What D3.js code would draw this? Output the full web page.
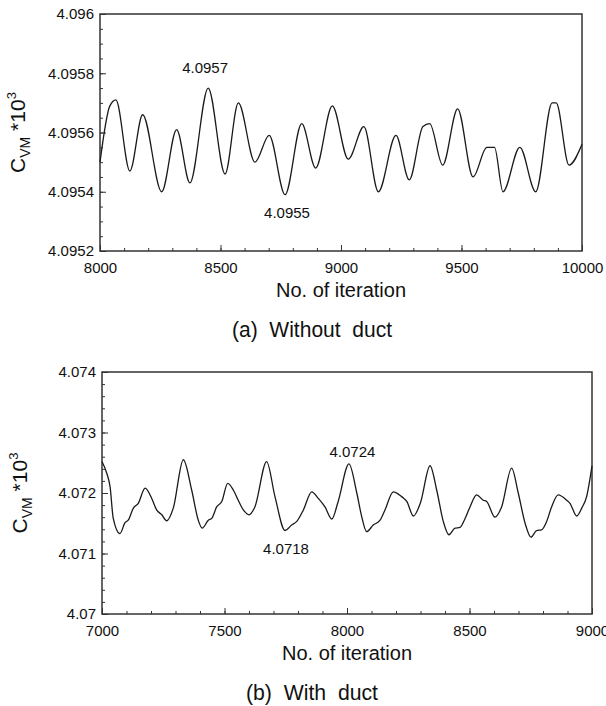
<!DOCTYPE html>
<html>
<head>
<meta charset="utf-8">
<script src="https://cdn.jsdelivr.net/npm/d3@7"></script>
<style>
  body { margin: 0; background: #fff; }
  text { font-family: "Liberation Sans", Arial, sans-serif; fill: #111; }
</style>
</head>
<body>
<script>
// (a) Without duct
const iterA = [8000, 8041, 8066, 8124, 8177, 8256, 8318, 8373, 8449, 8519, 8574, 8643, 8702, 8768,
  8837, 8895, 8964, 9030, 9095, 9155, 9228, 9283, 9340, 9368, 9422, 9484, 9548, 9605, 9637, 9672,
  9742, 9808, 9876, 9893, 9946, 10000];
const cvmA = [4.09550, 4.09569, 4.09571, 4.09547, 4.09566, 4.09540, 4.09561, 4.09543, 4.09575, 4.09546,
  4.09570, 4.09550, 4.09559, 4.09539, 4.09563, 4.09548, 4.09569, 4.09551, 4.09562, 4.09540, 4.09559,
  4.09544, 4.09562, 4.09563, 4.09549, 4.09568, 4.09545, 4.09555, 4.09555, 4.09540, 4.09555, 4.09540,
  4.09570, 4.09570, 4.09549, 4.09556];
const xTicksA = [8000, 8500, 9000, 9500, 10000];
const yTicksA = [4.0952, 4.0954, 4.0956, 4.0958, 4.096];
const yLabelsA = ["4.0952", "4.0954", "4.0956", "4.0958", "4.096"];
const noteTextA = ["4.0957", "4.0955"];
const noteIterA = [8436, 8776];
const noteCvmA = [4.0958, 4.09531];

// (b) With duct
const iterB = [7000, 7019, 7033, 7046, 7073, 7094, 7107, 7128, 7148, 7176, 7203, 7223, 7244, 7264,
  7291, 7332, 7366, 7393, 7409, 7434, 7448, 7468, 7489, 7513, 7536, 7556, 7577, 7600, 7624, 7672,
  7706, 7747, 7774, 7795, 7822, 7856, 7883, 7910, 7938, 7964, 8008, 8040, 8060, 8080, 8107, 8135,
  8155, 8189, 8223, 8244, 8271, 8300, 8339, 8366, 8393, 8416, 8441, 8461, 8482, 8502, 8529, 8556,
  8570, 8604, 8631, 8672, 8699, 8727, 8751, 8774, 8794, 8815, 8835, 8862, 8897, 8910, 8938, 8958,
  8978, 9000];
const cvmB = [4.07252, 4.07233, 4.07210, 4.07158, 4.07133, 4.07151, 4.07155, 4.07175, 4.07183, 4.07208,
  4.07191, 4.07172, 4.07164, 4.07154, 4.07175, 4.07255, 4.07205, 4.07155, 4.07142, 4.07155, 4.07158,
  4.07177, 4.07186, 4.07216, 4.07205, 4.07188, 4.07172, 4.07164, 4.07177, 4.07252, 4.07194, 4.07138,
  4.07147, 4.07153, 4.07172, 4.07202, 4.07191, 4.07177, 4.07157, 4.07186, 4.07248, 4.07200, 4.07161,
  4.07136, 4.07147, 4.07155, 4.07172, 4.07202, 4.07194, 4.07186, 4.07162, 4.07184, 4.07245, 4.07205,
  4.07153, 4.07131, 4.07142, 4.07143, 4.07158, 4.07177, 4.07197, 4.07188, 4.07186, 4.07160, 4.07177,
  4.07241, 4.07200, 4.07150, 4.07127, 4.07138, 4.07139, 4.07153, 4.07177, 4.07197, 4.07188, 4.07183,
  4.07162, 4.07175, 4.07194, 4.07245];
const xTicksB = [7000, 7500, 8000, 8500, 9000];
const yTicksB = [4.07, 4.071, 4.072, 4.073, 4.074];
const yLabelsB = ["4.07", "4.071", "4.072", "4.073", "4.074"];
const noteTextB = ["4.0724", "4.0718"];
const noteIterB = [8022, 7751];
const noteCvmB = [4.0726, 4.07099];

const width = 606;
const height = 706;

const svg = d3.select("body")
  .append("svg")
  .attr("width", width)
  .attr("height", height);

const styleAxis = (g) => {
  g.select(".domain").remove();
  g.selectAll(".tick line").attr("stroke", "#333").attr("stroke-width", 1);
  g.selectAll(".tick text")
    .attr("fill", "#111")
    .style("font-size", "15px")
    .style("font-family", '"Liberation Sans", Arial, sans-serif');
};

const drawPanel = (p) => {
  const x = d3.scaleLinear().domain(d3.extent(p.xTicks)).range([p.left, p.right]);
  const y = d3.scaleLinear().domain(d3.extent(p.yTicks)).range([p.bottom, p.top]);
  const g = svg.append("g");

  // minor ticks (inside)
  g.append("g")
    .attr("transform", `translate(0,${p.bottom})`)
    .call(d3.axisBottom(x).tickValues(d3.range(x.domain()[0], x.domain()[1], 100)).tickSize(-3).tickFormat(""))
    .call(styleAxis);
  g.append("g")
    .attr("transform", `translate(${p.left},0)`)
    .call(d3.axisLeft(y).tickValues(d3.range(0, p.yMinorCount + 1).map(i => y.domain()[0] + i * p.yMinorStep)).tickSize(-3).tickFormat(""))
    .call(styleAxis);

  // major ticks + labels
  g.append("g")
    .attr("transform", `translate(0,${p.bottom})`)
    .call(d3.axisBottom(x).tickValues(p.xTicks).tickSize(-6).tickPadding(11).tickFormat(d3.format("d")))
    .call(styleAxis);
  g.append("g")
    .attr("transform", `translate(${p.left},0)`)
    .call(d3.axisLeft(y).tickValues(p.yTicks).tickSize(-6).tickPadding(6).tickFormat((d, i) => p.yLabels[i]))
    .call(styleAxis);

  // frame
  g.append("rect")
    .attr("x", p.left)
    .attr("y", p.top)
    .attr("width", p.right - p.left)
    .attr("height", p.bottom - p.top)
    .attr("fill", "none")
    .attr("stroke", "#333")
    .attr("stroke-width", 1.5);

  // series
  const line = d3.line()
    .x((d, i) => x(p.iter[i]))
    .y((d, i) => y(p.cvm[i]))
    .curve(d3.curveMonotoneX);
  g.append("path")
    .datum(p.cvm)
    .attr("d", line)
    .attr("fill", "none")
    .attr("stroke", "#1a1a1a")
    .attr("stroke-width", 1.3);

  // value notes
  g.selectAll(".note")
    .data(p.noteText)
    .enter()
    .append("text")
    .attr("class", "note")
    .attr("x", (d, i) => x(p.noteIter[i]))
    .attr("y", (d, i) => y(p.noteCvm[i]))
    .attr("text-anchor", "middle")
    .style("font-size", "15px")
    .text(d => d);

  // y title  C_VM *10^3
  const yt = g.append("text")
    .attr("transform", `translate(${p.left - 75},${(p.top + p.bottom) / 2}) rotate(-90)`)
    .attr("text-anchor", "middle")
    .style("font-size", "21px");
  yt.append("tspan").text("C");
  yt.append("tspan").attr("dy", 5).style("font-size", "14px").text("VM");
  yt.append("tspan").attr("dy", -5).text(" *10");
  yt.append("tspan").attr("dy", -9).style("font-size", "13px").text("3");

  // x title
  g.append("text")
    .attr("x", (p.left + p.right) / 2)
    .attr("y", p.bottom + 46)
    .attr("text-anchor", "middle")
    .style("font-size", "20px")
    .text("No. of iteration");

  // caption
  g.append("text")
    .attr("x", 312)
    .attr("y", p.bottom + 86)
    .attr("text-anchor", "middle")
    .attr("textLength", p.captionWidth)
    .attr("lengthAdjust", "spacingAndGlyphs")
    .style("font-size", "22px")
    .style("font-family", '"Liberation Sans Narrow", "Liberation Sans", Arial, sans-serif')
    .style("white-space", "pre")
    .text(p.caption);
};

drawPanel({
  left: 100, right: 582, top: 14, bottom: 251,
  iter: iterA, cvm: cvmA, xTicks: xTicksA, yTicks: yTicksA, yLabels: yLabelsA,
  yMinorStep: 0.00005, yMinorCount: 16,
  noteText: noteTextA, noteIter: noteIterA, noteCvm: noteCvmA,
  caption: "(a)  Without  duct", captionWidth: 160
});

drawPanel({
  left: 102, right: 592, top: 372, bottom: 614,
  iter: iterB, cvm: cvmB, xTicks: xTicksB, yTicks: yTicksB, yLabels: yLabelsB,
  yMinorStep: 0.0002, yMinorCount: 20,
  noteText: noteTextB, noteIter: noteIterB, noteCvm: noteCvmB,
  caption: "(b)  With  duct", captionWidth: 132
});
</script>
</body>
</html>
